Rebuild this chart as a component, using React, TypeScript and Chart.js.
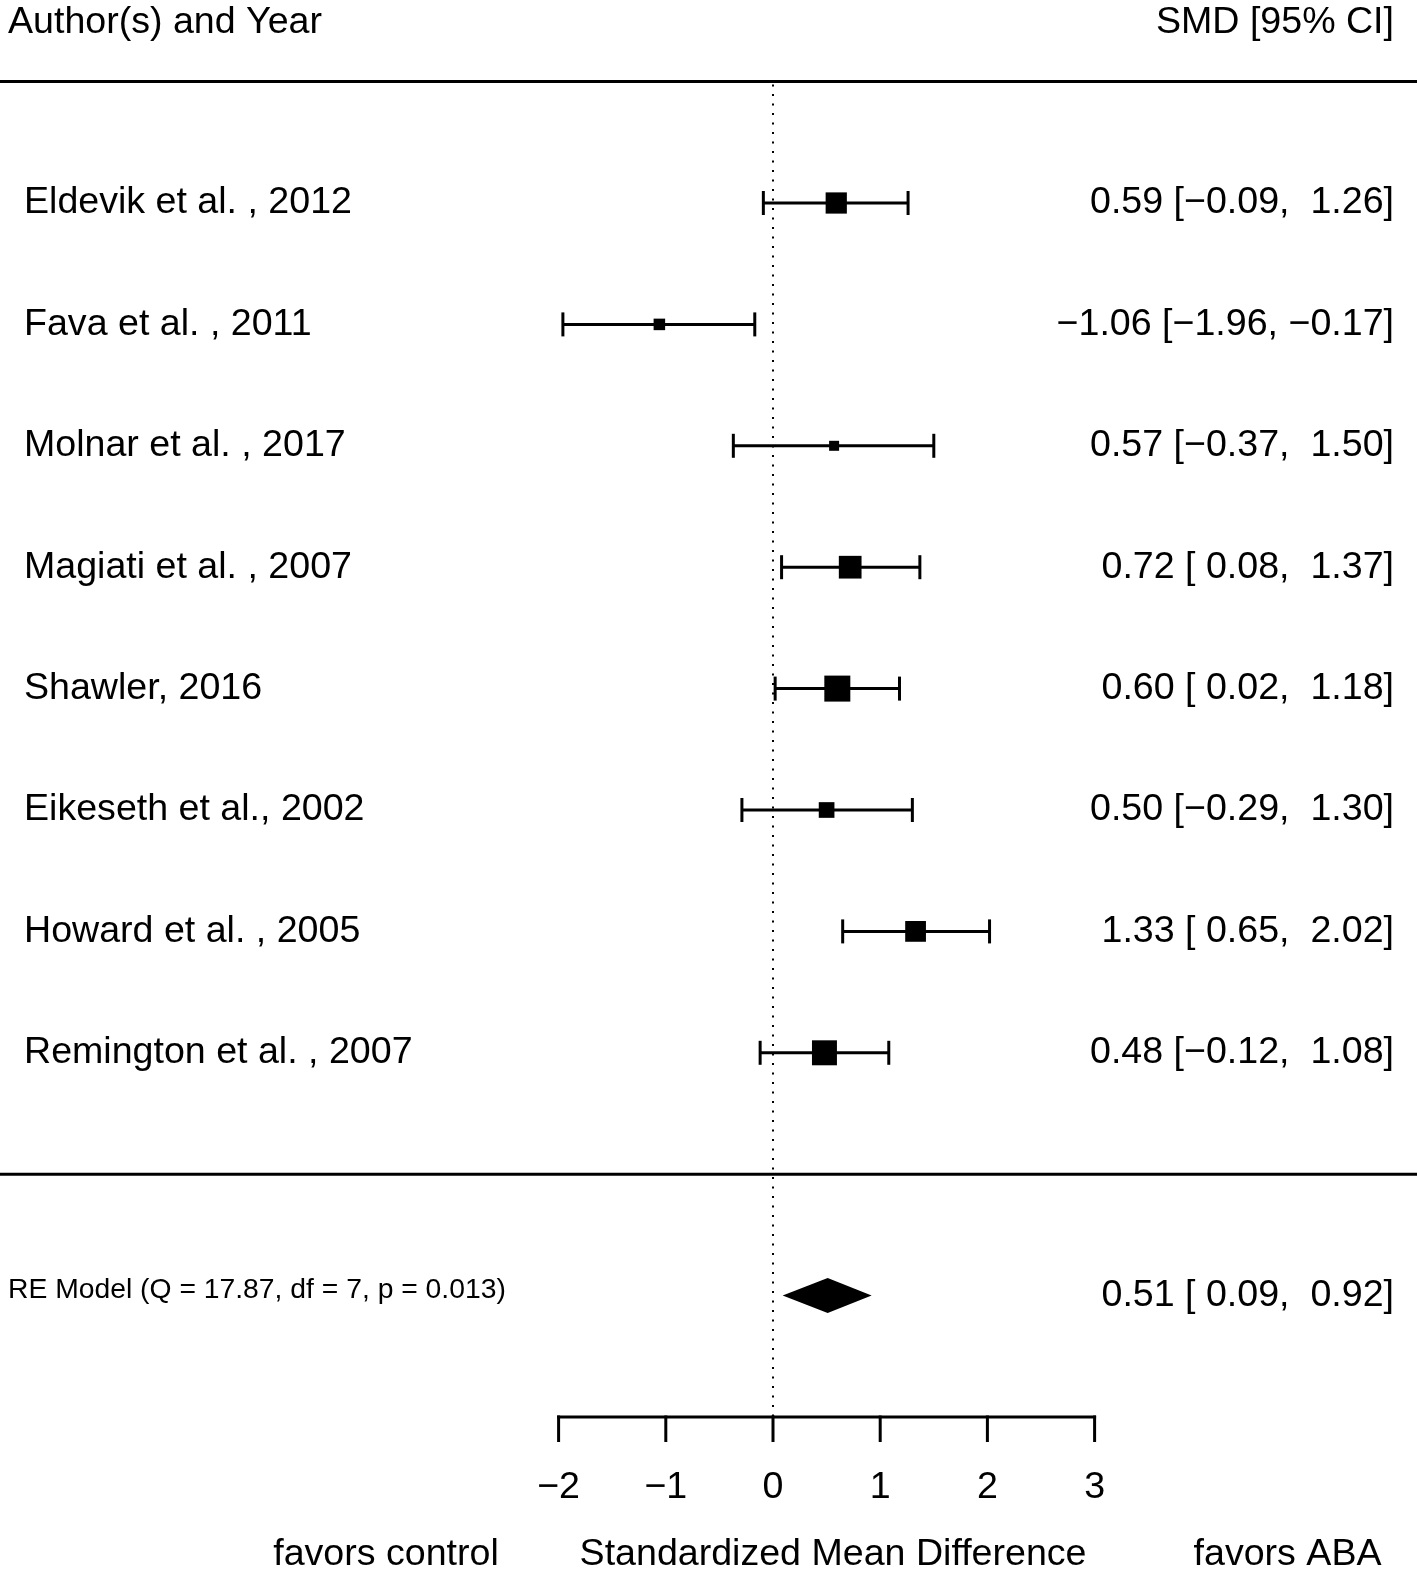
import React, { useEffect, useRef } from 'react';
import { Chart, registerables } from 'chart.js';

Chart.register(...registerables);

// ---- data ----
const studies = [
  'Eldevik et al. , 2012',
  'Fava et al. , 2011',
  'Molnar et al. , 2017',
  'Magiati et al. , 2007',
  'Shawler, 2016',
  'Eikeseth et al., 2002',
  'Howard et al. , 2005',
  'Remington et al. , 2007',
];
const smd = [0.59, -1.06, 0.57, 0.72, 0.6, 0.5, 1.33, 0.48];
const ciLower = [-0.09, -1.96, -0.37, 0.08, 0.02, -0.29, 0.65, -0.12];
const ciUpper = [1.26, -0.17, 1.5, 1.37, 1.18, 1.3, 2.02, 1.08];

const reEstimate = 0.51;
const reLower = 0.09;
const reUpper = 0.92;
const heterogeneityQ = 17.87;
const heterogeneityDf = 7;
const heterogeneityP = 0.013;
const reLabel = `RE Model (Q = ${heterogeneityQ.toFixed(2)}, df = ${heterogeneityDf}, p = ${heterogeneityP.toFixed(3)})`;

const xTicks = [-2, -1, 0, 1, 2, 3];
const headerLeft = 'Author(s) and Year';
const headerRight = 'SMD [95% CI]';
const xLabel = 'Standardized Mean Difference';
const leftNote = 'favors control';
const rightNote = 'favors ABA';

// ---- helpers ----
const minus = '\u2212';
const fmt = (v: number) => (v < 0 ? minus + Math.abs(v).toFixed(2) : v.toFixed(2));
const pad = (v: number) => (v < 0 ? fmt(v) : ' ' + fmt(v));
const ciText = (e: number, l: number, u: number) => `${fmt(e)} [${pad(l)}, ${pad(u)}]`;

// box size from random-effects weights (sampling variance from CI width, DL tau^2)
const vi = ciLower.map((l, i) => Math.pow((ciUpper[i] - l) / 3.92, 2));
const wFE = vi.map((v) => 1 / v);
const sumW = wFE.reduce((a, b) => a + b, 0);
const sumW2 = wFE.reduce((a, b) => a + b * b, 0);
const tau2 = Math.max(0, (heterogeneityQ - heterogeneityDf) / (sumW - sumW2 / sumW));
const wRE = vi.map((v) => 1 / (v + tau2));
const wMin = Math.min(...wRE);
const wMax = Math.max(...wRE);
const boxSide = wRE.map((w) => 10 + 16 * ((w - wMin) / (wMax - wMin)));

const W = 1417;
const H = 1575;
const ZERO_PX = 773;
const UNIT_PX = 107.2;
const FONT = '"Liberation Sans", Arial, Helvetica, sans-serif';

const rowY = studies.map((_, i) => studies.length - i); // 8..1

const forestPlugin = {
  id: 'forest',
  beforeDatasetsDraw(chart: any) {
    const { ctx } = chart;
    const xs = chart.scales.x;
    const ys = chart.scales.y;
    const X = (v: number) => xs.getPixelForValue(v);
    const Y = (v: number) => ys.getPixelForValue(v);
    const line = (x1: number, y1: number, x2: number, y2: number) => {
      ctx.beginPath();
      ctx.moveTo(x1, y1);
      ctx.lineTo(x2, y2);
      ctx.stroke();
    };
    ctx.save();
    ctx.strokeStyle = '#000';
    ctx.fillStyle = '#000';

    // horizontal separator lines
    ctx.lineWidth = 3;
    line(0, Y(9), W, Y(9));
    line(0, Y(0), W, Y(0));

    // dotted reference line at 0
    ctx.save();
    ctx.lineWidth = 2;
    ctx.setLineDash([2, 7.5]);
    line(X(0), Y(9) + 3, X(0), Y(-2));
    ctx.restore();

    // confidence intervals
    ctx.lineWidth = 3;
    rowY.forEach((r, i) => {
      const y = Y(r);
      line(X(ciLower[i]), y, X(ciUpper[i]), y);
      line(X(ciLower[i]), y - 12, X(ciLower[i]), y + 12);
      line(X(ciUpper[i]), y - 12, X(ciUpper[i]), y + 12);
    });

    // summary diamond
    const yd = Y(-1);
    ctx.beginPath();
    ctx.moveTo(X(reLower), yd);
    ctx.lineTo(X(reEstimate), yd - 17.5);
    ctx.lineTo(X(reUpper), yd);
    ctx.lineTo(X(reEstimate), yd + 17.5);
    ctx.closePath();
    ctx.fill();

    // x axis
    const ya = Y(-2);
    ctx.lineWidth = 3;
    line(X(xTicks[0]) - 1.5, ya, X(xTicks[xTicks.length - 1]) + 1.5, ya);
    xTicks.forEach((t) => line(X(t), ya - 1.5, X(t), ya + 25));

    // text
    ctx.textBaseline = 'middle';
    ctx.font = `37.6px ${FONT}`;
    ctx.textAlign = 'center';
    xTicks.forEach((t) => ctx.fillText(t < 0 ? minus + Math.abs(t) : String(t), X(t), Y(-2.585)));
    ctx.fillText(leftNote, X(-3.61), Y(-3.137));
    ctx.fillText(xLabel, X(0.56), Y(-3.137));
    ctx.fillText(rightNote, X(4.8), Y(-3.137));

    ctx.textAlign = 'left';
    ctx.fillText(headerLeft, 8, Y(9.482));
    rowY.forEach((r, i) => ctx.fillText(studies[i], 24, Y(r)));
    ctx.textAlign = 'right';
    ctx.fillText(headerRight, 1394, Y(9.482));
    rowY.forEach((r, i) => ctx.fillText(ciText(smd[i], ciLower[i], ciUpper[i]), 1394, Y(r)));
    ctx.fillText(ciText(reEstimate, reLower, reUpper), 1394, Y(-1));

    ctx.textAlign = 'left';
    ctx.font = `28.3px ${FONT}`;
    ctx.fillText(reLabel, 8, Y(-1) - 5);

    ctx.restore();
  },
};

export default function App() {
  const ref = useRef<HTMLCanvasElement | null>(null);
  useEffect(() => {
    if (!ref.current) return;
    const chart = new Chart(ref.current, {
      type: 'scatter',
      data: {
        datasets: [
          {
            data: smd.map((v, i) => ({ x: v, y: rowY[i] })),
            pointStyle: 'rect',
            pointRadius: boxSide.map((s) => s / Math.SQRT2),
            pointHoverRadius: boxSide.map((s) => s / Math.SQRT2),
            backgroundColor: '#000',
            borderColor: '#000',
            borderWidth: 0,
          },
        ],
      },
      options: {
        responsive: false,
        animation: false,
        devicePixelRatio: 1,
        layout: { padding: 0, autoPadding: false },
        events: [],
        plugins: { legend: { display: false }, tooltip: { enabled: false } },
        scales: {
          x: { type: 'linear', display: false, min: -ZERO_PX / UNIT_PX, max: (W - ZERO_PX) / UNIT_PX },
          y: { type: 'linear', display: false, min: 8 - (H - 203) / 121.4, max: 8 + 203 / 121.4 },
        },
      },
      plugins: [forestPlugin],
    });
    return () => chart.destroy();
  }, []);
  return (
    <div style={{ position: 'absolute', left: 0, top: 0, width: W, height: H, background: '#fff' }}>
      <canvas ref={ref} width={W} height={H} style={{ display: 'block' }} />
    </div>
  );
}
